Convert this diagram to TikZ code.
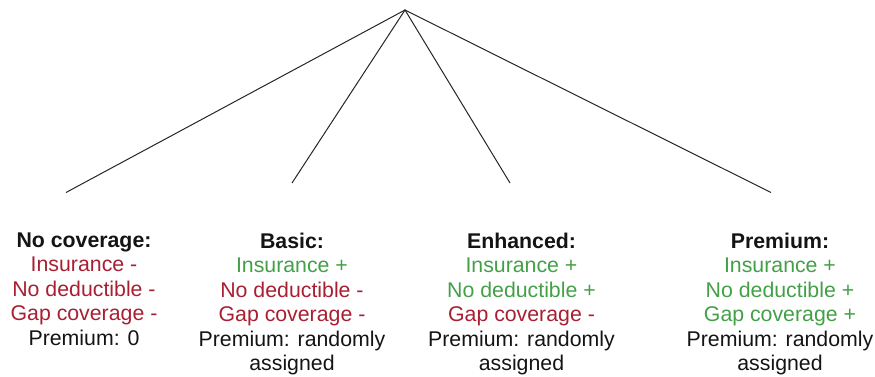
\documentclass[tikz,border=0pt]{standalone}
\usepackage{fontspec}
\setmainfont{Liberation Sans}
\definecolor{minuscol}{RGB}{168,30,50}
\definecolor{pluscol}{RGB}{67,160,71}
\definecolor{txt}{RGB}{20,20,20}
\newcommand{\mneg}[1]{\textcolor{minuscol}{#1}}
\newcommand{\mpos}[1]{\textcolor{pluscol}{#1}}
\begin{document}
\begin{tikzpicture}[x=1pt,y=1pt,
  branch/.style={draw=black!85, line width=1pt},
  block/.style={align=center, anchor=north, inner sep=0pt, text=txt,
    font=\fontsize{21.3}{24.5}\selectfont}]
\useasboundingbox (0,0) rectangle (875,376);
\coordinate (top) at (405,366);
\coordinate (e1) at (66,183.5);
\coordinate (e2) at (292,193);
\coordinate (e3) at (510,193);
\coordinate (e4) at (771,183.5);
\draw[branch] (e1) -- (top) -- (e4);
\draw[branch] (e2) -- (top) -- (e3);
\node[block] (b1) at (84,143.5) {\textbf{No coverage:}\\ \mneg{Insurance -}\\ \mneg{No deductible -}\\ \mneg{Gap coverage -}\\ Premium: 0};
\node[block] (b2) at (292,143.5) {\textbf{Basic:}\\ \mpos{Insurance +}\\ \mneg{No deductible -}\\ \mneg{Gap coverage -}\\ Premium: randomly\\ assigned};
\node[block] (b3) at (521.5,143.5) {\textbf{Enhanced:}\\ \mpos{Insurance +}\\ \mpos{No deductible +}\\ \mneg{Gap coverage -}\\ Premium: randomly\\ assigned};
\node[block] (b4) at (780,143.5) {\textbf{Premium:}\\ \mpos{Insurance +}\\ \mpos{No deductible +}\\ \mpos{Gap coverage +}\\ Premium: randomly\\ assigned};
\end{tikzpicture}
\end{document}
